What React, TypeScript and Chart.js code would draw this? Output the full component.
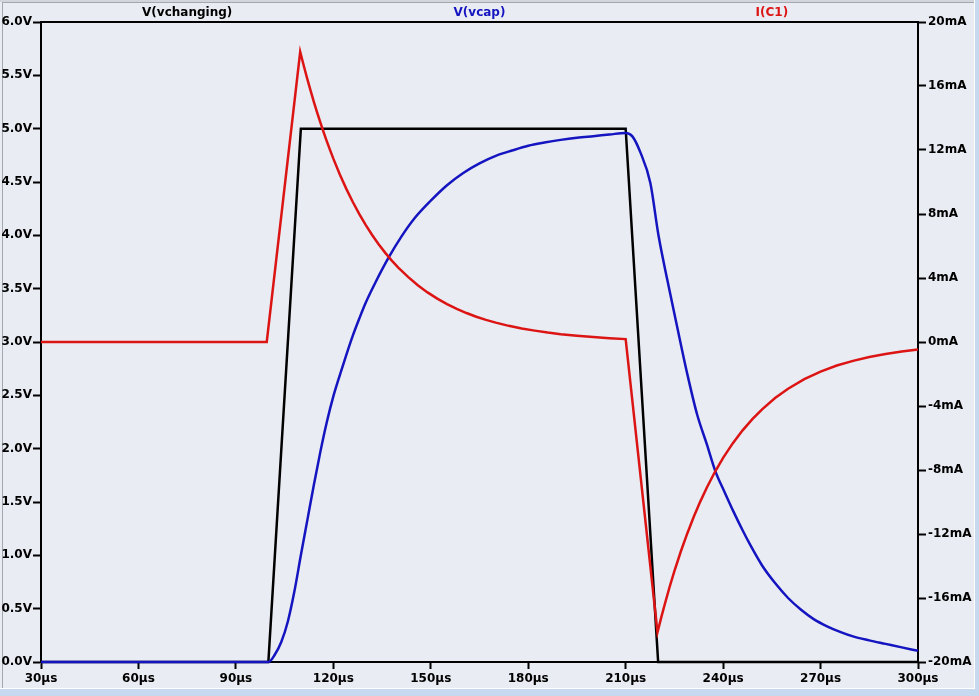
import React, { useEffect, useRef } from "react";
import { Chart, registerables } from "chart.js";

Chart.register(...registerables);

// V(vchanging)
const vchTime = [30, 100, 110, 210, 220, 300];
const vchValues = [0, 0, 5, 5, 0, 0];

// V(vcap)
const vcapTime = [
  30, 100, 102, 104, 106, 108, 110, 112, 114, 116, 118, 120, 122, 124, 126, 128, 130, 133, 137, 141,
  145, 150, 155, 160, 165, 170, 175, 180, 185, 190, 195, 200, 205, 210, 212, 214.5, 217.6, 220.1, 222.7, 225.8,
  228.9, 232, 235, 237.6, 240.5, 243.2, 246, 248.4, 252, 256, 260, 264, 268, 272, 276, 280, 285, 290, 295, 300,
];
const vcapValues = [
  0, 0, 0.07, 0.19, 0.38, 0.66, 1.0, 1.33, 1.66, 1.97, 2.25, 2.49, 2.69, 2.88, 3.06, 3.22, 3.37, 3.56, 3.79, 3.99,
  4.16, 4.325, 4.47, 4.585, 4.675, 4.745, 4.795, 4.84, 4.87, 4.895, 4.915, 4.93, 4.945, 4.96, 4.93, 4.78, 4.49, 4.0, 3.6, 3.15,
  2.71, 2.32, 2.04, 1.79, 1.59, 1.41, 1.235, 1.095, 0.905, 0.74, 0.6, 0.49, 0.4, 0.335, 0.283, 0.24, 0.203, 0.17, 0.137, 0.105,
];

// I(C1) in mA
const ic1Time = [
  30, 99.5, 109.8, 111, 112, 113, 114, 115, 116, 117, 118, 119, 120, 122, 124, 126, 128, 130, 132, 134,
  136, 138, 140, 143, 146, 149, 152, 155, 158, 161, 164, 167, 170, 174, 178, 182, 186, 190, 195, 200,
  205, 210, 219.8, 221, 222, 223.5, 225, 227, 229, 231, 233, 235, 237.5, 240, 243, 246, 249, 252, 256, 260,
  265, 270, 275, 280, 285, 290, 295, 300,
];
const ic1Values = [
  0, 0, 18.14, 17.19, 16.43, 15.71, 15.01, 14.35, 13.72, 13.12, 12.54, 11.99, 11.46, 10.47, 9.57, 8.75, 7.99, 7.3, 6.67, 6.1,
  5.57, 5.09, 4.65, 4.07, 3.55, 3.1, 2.71, 2.37, 2.07, 1.81, 1.58, 1.38, 1.21, 1.01, 0.84, 0.71, 0.59, 0.49, 0.39, 0.31,
  0.24, 0.18, -18.14, -17.18, -16.42, -15.33, -14.32, -13.08, -11.95, -10.91, -9.96, -9.09, -8.11, -7.24, -6.32, -5.52, -4.82, -4.21, -3.5, -2.92,
  -2.32, -1.85, -1.47, -1.18, -0.94, -0.75, -0.59, -0.47,
];

const seriesNames = ["V(vchanging)", "V(vcap)", "I(C1)"];
const seriesColors = ["#000000", "#1414c0", "#dc1414"];

const FONT = "DejaVu Sans";

const framePlugin = {
  id: "frame",
  beforeDraw(chart: any) {
    const ctx = chart.ctx;
    const w = chart.width;
    const h = chart.height;
    ctx.save();
    ctx.fillStyle = "#c6d9ee";
    ctx.fillRect(0, 0, w, h);
    ctx.fillStyle = "#e9ecf2";
    ctx.fillRect(0, 0, 975, 689);
    ctx.fillStyle = "#d2d6dc";
    ctx.fillRect(0, 0, 975, 2);
    ctx.fillStyle = "#a4a8ae";
    ctx.fillRect(2, 2, 973, 1);
    ctx.fillRect(2, 2, 1, 687);
    ctx.fillStyle = "#ffffff";
    ctx.fillRect(974, 0, 1, 689);
    ctx.fillRect(0, 688, 975, 1);
    ctx.restore();
  },
  beforeDatasetsDraw(chart: any) {
    const { ctx, chartArea } = chart;
    ctx.save();
    ctx.strokeStyle = "#000";
    ctx.lineWidth = 2;
    ctx.beginPath();
    ctx.moveTo(chartArea.left - 1, chartArea.top);
    ctx.lineTo(chartArea.right + 1, chartArea.top);
    ctx.stroke();
    ctx.restore();
  },
  afterDraw(chart: any) {
    const { ctx, chartArea } = chart;
    const width = chartArea.right - chartArea.left;
    ctx.save();
    ctx.font = `bold 12px "${FONT}"`;
    ctx.textAlign = "center";
    ctx.textBaseline = "middle";
    seriesNames.forEach((name, i) => {
      ctx.fillStyle = seriesColors[i];
      ctx.fillText(name, chartArea.left + (width * (2 * i + 1)) / 6, 13);
    });
    ctx.restore();
  },
};

export default function App() {
  const canvasRef = useRef<HTMLCanvasElement | null>(null);

  useEffect(() => {
    if (!canvasRef.current) return;
    const tickFont = { family: FONT, size: 12, weight: "bold" as const };
    const chart = new Chart(canvasRef.current, {
      type: "line",
      data: {
        datasets: [
          {
            label: seriesNames[0],
            data: vchTime.map((t, i) => ({ x: t, y: vchValues[i] })),
            borderColor: seriesColors[0],
            borderWidth: 2.5,
            pointRadius: 0,
            tension: 0,
            yAxisID: "y",
            order: 2,
            clip: false as any,
          },
          {
            label: seriesNames[1],
            data: vcapTime.map((t, i) => ({ x: t, y: vcapValues[i] })),
            borderColor: seriesColors[1],
            borderWidth: 2.5,
            pointRadius: 0,
            cubicInterpolationMode: "monotone",
            yAxisID: "y",
            order: 1,
            clip: false as any,
          },
          {
            label: seriesNames[2],
            data: ic1Time.map((t, i) => ({ x: t, y: ic1Values[i] })),
            borderColor: seriesColors[2],
            borderWidth: 2.5,
            pointRadius: 0,
            tension: 0,
            yAxisID: "y1",
            order: 0,
            clip: false as any,
          },
        ],
      },
      options: {
        animation: false,
        responsive: false,
        devicePixelRatio: 1,
        events: [],
        layout: { padding: { top: 22, left: 0, right: 0, bottom: 0 } },
        plugins: { legend: { display: false }, tooltip: { enabled: false }, title: { display: false } },
        scales: {
          x: {
            type: "linear",
            min: 30,
            max: 300,
            afterFit: (s: any) => {
              s.height = 34;
            },
            ticks: {
              stepSize: 30,
              autoSkip: false,
              maxRotation: 0,
              padding: 3,
              color: "#000",
              font: tickFont,
              callback: (v: any) => `${v}µs`,
            },
            grid: { drawOnChartArea: false, drawTicks: true, tickLength: 7, tickWidth: 2, tickColor: "#000" },
            border: { display: true, color: "#000", width: 2 },
          },
          y: {
            type: "linear",
            position: "left",
            min: 0,
            max: 6,
            afterFit: (s: any) => {
              s.width = 41;
            },
            ticks: {
              stepSize: 0.5,
              autoSkip: false,
              padding: 1,
              color: "#000",
              font: tickFont,
              callback: (v: any) => `${Number(v).toFixed(1)}V`,
            },
            grid: { drawOnChartArea: false, drawTicks: true, tickLength: 8, tickWidth: 2, tickColor: "#000" },
            border: { display: true, color: "#000", width: 2 },
          },
          y1: {
            type: "linear",
            position: "right",
            min: -20,
            max: 20,
            afterFit: (s: any) => {
              s.width = 61;
            },
            ticks: {
              stepSize: 4,
              autoSkip: false,
              padding: 2,
              color: "#000",
              font: tickFont,
              callback: (v: any) => `${v}mA`,
            },
            grid: { drawOnChartArea: false, drawTicks: true, tickLength: 8, tickWidth: 2, tickColor: "#000" },
            border: { display: true, color: "#000", width: 2 },
          },
        },
      } as any,
      plugins: [framePlugin],
    });
    return () => chart.destroy();
  }, []);

  return (
    <div style={{ position: "absolute", left: 0, top: 0, width: 979, height: 696 }}>
      <canvas ref={canvasRef} width={979} height={696} style={{ display: "block" }} />
    </div>
  );
}
